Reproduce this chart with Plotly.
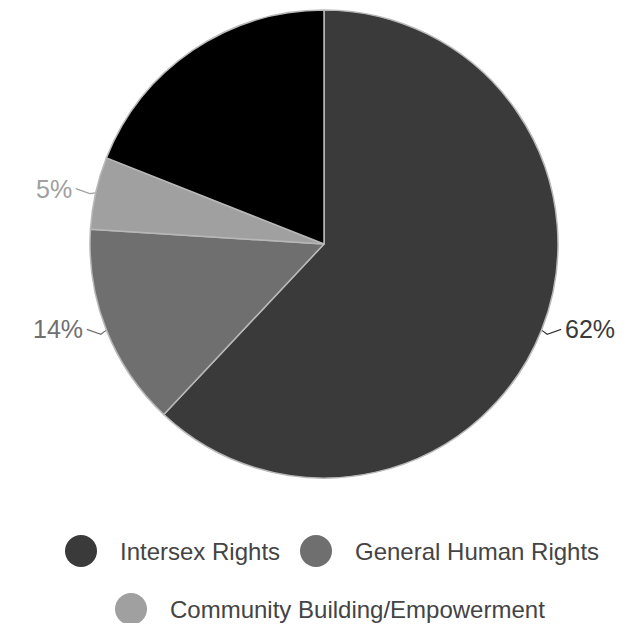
import math
import plotly.graph_objects as go

labels = ['Intersex Rights', 'General Human Rights', 'Community Building/Empowerment', 'Other']
values = [62, 14, 5, 19]
pct_text = ['62%', '14%', '5%', '']
colors = ['#3a3a3a', '#6f6f6f', '#a0a0a0', '#000000']
legend_show = [True, True, True, False]

OFF = 8                      # page body margin in the browser
W, H = 644 - 2 * OFF, 631 - 2 * OFF
cx, cy, r = 324 - OFF, 244 - OFF, 234   # pie centre / radius in figure pixels

fig = go.Figure()

fig.add_trace(go.Pie(
    labels=labels, values=values, sort=False, direction='clockwise', rotation=0,
    marker=dict(colors=colors, line=dict(color='#b8b8b8', width=1.5)),
    textinfo='none', hoverinfo='label+percent', showlegend=False,
    domain=dict(x=[(cx - r) / W, (cx + r) / W], y=[1 - (cy + r) / H, 1 - (cy - r) / H]),
))

# percentage labels with small leader lines, placed from slice mid-angles
total = sum(values)
cum = 0
for v, t, c in zip(values, pct_text, colors):
    mid = (cum + v / 2) / total * 2 * math.pi
    cum += v
    if not t:
        continue
    sx, sy = math.sin(mid), -math.cos(mid)
    side = 1 if sx > 0 else -1
    p1 = (cx + r * sx, cy + r * sy)
    p2 = (cx + (r + 6) * sx, cy + (r + 6) * sy + 2)
    p3 = (p2[0] + side * 14, p2[1] - 5)
    fig.add_trace(go.Scatter(x=[p1[0], p2[0], p3[0]], y=[p1[1], p2[1], p3[1]], mode='lines',
                             line=dict(color=c, width=1.2), hoverinfo='skip', showlegend=False))
    fig.add_annotation(x=p3[0] + side * 2, y=p3[1], text=t, showarrow=False,
                       xanchor='left' if side > 0 else 'right', yanchor='middle',
                       font=dict(size=25, color=c, family='Liberation Sans, Arial'))

# custom legend with large circles
leg_x = [81 - OFF, 316 - OFF, 131 - OFF]
leg_y = [551 - OFF, 551 - OFF, 609 - OFF]
for name, c, show, lx, ly in zip(labels, colors, legend_show, leg_x + [0], leg_y + [0]):
    if not show:
        continue
    fig.add_trace(go.Scatter(x=[lx], y=[ly], mode='markers', marker=dict(size=32, color=c),
                             hoverinfo='skip', showlegend=False, cliponaxis=False))
    fig.add_annotation(x=lx + 37, y=ly, text=name, showarrow=False, xanchor='left', yanchor='middle',
                       font=dict(size=24, color='#444444', family='Liberation Sans, Arial'))

fig.update_layout(
    width=W, height=H, margin=dict(l=0, r=0, t=0, b=0),
    paper_bgcolor='white', plot_bgcolor='white', showlegend=False,
    xaxis=dict(range=[0, W], visible=False, fixedrange=True),
    yaxis=dict(range=[H, 0], visible=False, fixedrange=True),
)

fig.write_html("out.html")
